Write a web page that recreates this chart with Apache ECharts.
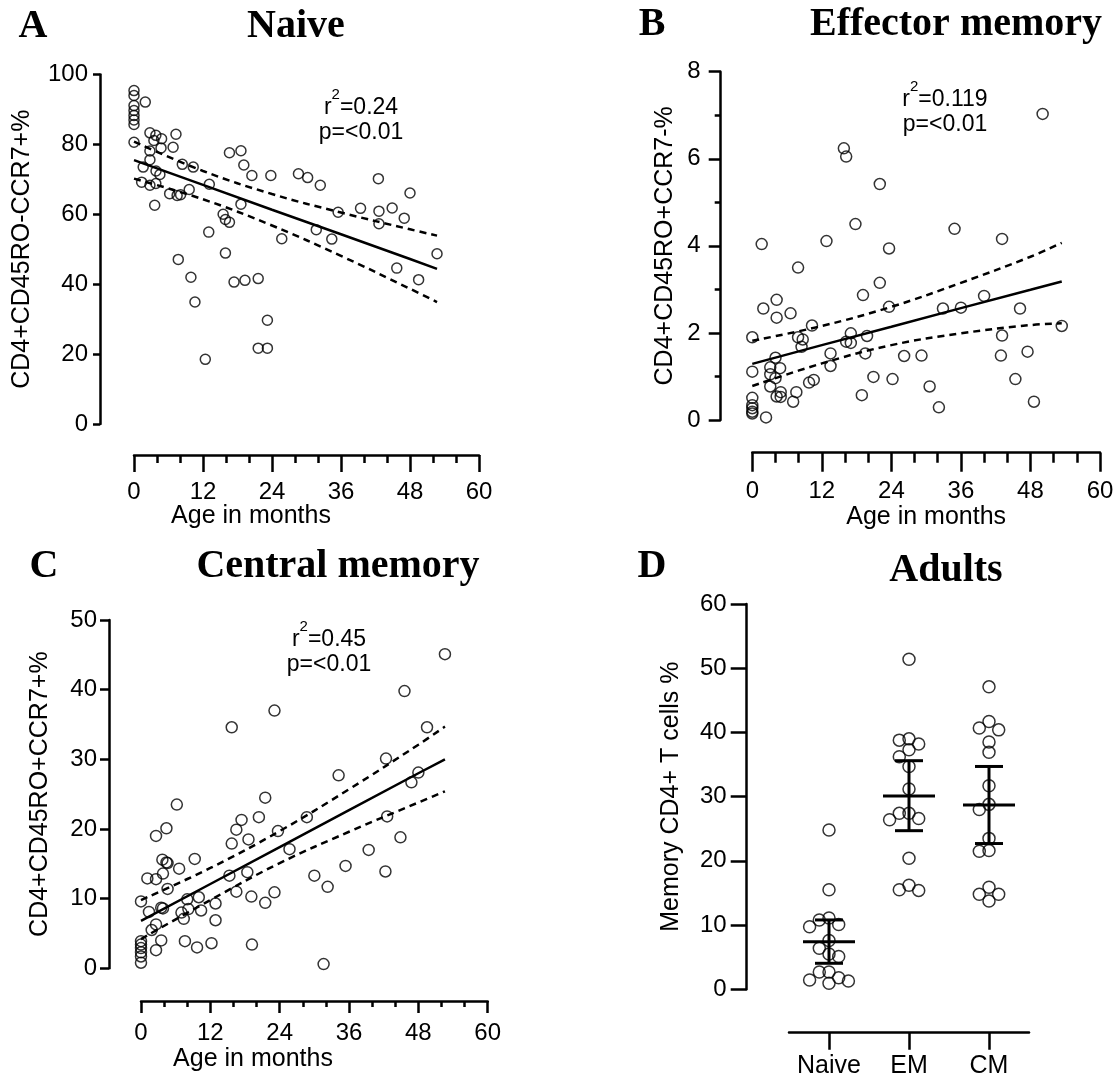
<!DOCTYPE html>
<html>
<head>
<meta charset="utf-8">
<title>CD4+ T cell subsets by age</title>
<script src="https://cdn.jsdelivr.net/npm/echarts@6/dist/echarts.min.js"></script>
<style>
  html, body { margin: 0; padding: 0; background: #fff; }
  #chart { width: 1120px; height: 1081px; }
</style>
</head>
<body>
<div id="chart"></div>
<script>
// ---- Panel A: naive (CD45RO-CCR7+) vs age ----
const naiveMonths = [0,0,0,0,0,0,0,0, 1.96,2.77,3.8,3.46,4.8,4.7,7.3,6.8,2.77,2.77,3.83,4.5,1.6,1.33,2.77,3.8,3.6,6.2,7.5,8.1,8.4,10.3,9.6,13.1,13.0,7.7,9.9,10.6,12.4,16.6,18.6,19.1,20.5,23.8,18.6,15.5,15.9,16.6,15.9,17.4,19.3,21.6,23.2,21.6,23.2,25.7,28.6,30.2,32.4,31.7,34.4,35.5,39.4,42.5,42.6,42.6,44.9,48.0,47.0,45.7,49.5,52.7];
const naiveValues = [95.4,94.0,91.1,89.7,88.3,87.0,85.7,80.6, 92.1,83.3,82.6,81.1,81.6,79.0,82.9,79.2,78.1,75.6,72.4,71.4,73.5,69.2,68.3,68.8,62.6,65.9,65.4,65.6,74.3,73.5,67.1,68.6,54.9,47.1,42.0,34.9,18.5,77.6,78.2,74.1,71.1,71.1,62.9,60.0,58.5,57.7,48.9,40.6,41.1,41.6,29.7,21.7,21.7,53.0,71.6,70.5,68.3,55.6,52.9,60.6,61.7,70.2,60.9,57.3,61.8,66.1,58.9,44.6,41.3,48.7];
const naiveFitMonths = [0, 12, 24, 36, 48, 52.7];
const naiveFit   = [75.5, 68.4, 61.3, 54.3, 47.2, 44.4];
const naiveUpper = [80.8, 72.4, 65.8, 60.5, 55.7, 53.9];
const naiveLower = [70.2, 64.3, 56.8, 48.1, 38.7, 34.9];

// ---- Panel B: effector memory (CD45RO+CCR7-) vs age ----
const emMonths = [0,0,0,0,0,0,0, 2.37,1.62,1.9,4.2,4.2,6.6,4.0,3.1,4.8,3.1,4.0,3.1,4.2,4.9,4.9,7.05,7.6,7.9,7.9,8.7,8.5,10.3,9.8,10.6,12.8,13.5,13.5,15.8,16.2,17.8,16.2,17.0,17.0,19.1,19.8,19.5,18.9,20.9,22.0,22.0,23.6,23.6,24.2,26.2,29.2,30.6,32.2,32.9,34.9,36.0,40.0,43.1,43.1,42.9,45.4,46.2,47.5,48.6,50.1,53.4];
const emValues = [1.90,1.11,0.51,0.34,0.27,0.19,0.15, 0.06,4.04,2.56,2.76,2.35,2.45,1.43,1.21,1.19,1.05,0.96,0.77,0.54,0.64,0.53,0.42,0.64,3.50,1.90,1.85,1.68,2.17,0.86,0.92,4.11,1.53,1.24,6.24,6.05,4.50,1.80,1.99,1.77,2.87,1.93,1.53,0.57,0.99,5.42,3.15,3.94,2.60,0.94,1.47,1.48,0.77,0.29,2.56,4.39,2.58,2.85,4.16,1.94,1.48,0.94,2.56,1.57,0.42,7.03,2.16];
const emFitMonths = [0, 12, 24, 36, 48, 53.4];
const emFit   = [1.29, 1.72, 2.14, 2.57, 2.99, 3.18];
const emUpper = [1.82, 2.16, 2.60, 3.15, 3.75, 4.07];
const emLower = [0.78, 1.30, 1.72, 1.99, 2.18, 2.22];

// ---- Panel C: central memory (CD45RO+CCR7+) vs age ----
const cmMonths = [0,0,0,0,0,0,0, 1.38,1.1,2.6,2.6,4.4,3.7,4.4,4.6,3.8,4.6,3.5,3.8,1.85,2.6,3.5,2.6,6.2,6.6,9.3,8.0,7.0,7.4,8.2,10.0,10.4,7.6,9.7,12.2,12.9,12.9,15.7,15.7,15.3,16.5,17.4,18.6,16.5,18.4,19.1,19.2,20.4,21.5,21.5,23.1,23.1,23.7,25.7,28.7,30.0,32.3,31.6,34.2,35.4,39.4,42.4,42.6,42.3,44.9,45.6,46.8,48.0,49.5,52.6];
const cmValues = [9.6,3.9,3.4,2.9,2.3,1.7,0.8, 8.1,12.9,12.8,19.0,20.1,15.6,15.2,15.1,13.6,11.4,8.7,8.6,5.5,6.3,4.0,2.6,23.5,14.3,15.7,9.9,8.0,7.1,8.5,10.2,8.3,3.9,3.0,3.6,9.3,6.9,34.6,17.9,13.3,19.9,21.3,18.5,11.0,13.8,10.3,3.4,21.7,24.5,9.4,37.0,10.9,19.7,17.1,21.7,13.3,11.7,0.6,27.7,14.7,17.0,30.1,21.8,13.9,18.8,39.8,26.7,28.1,34.6,45.1];
const cmFitMonths = [0, 12, 24, 36, 48, 52.6];
const cmFit   = [6.8, 12.1, 17.4, 22.7, 28.0, 30.0];
const cmUpper = [9.8, 14.4, 19.7, 25.7, 32.1, 34.7];
const cmLower = [4.2, 9.8, 15.1, 19.6, 23.8, 25.4];

// ---- Panel D: adults ----
const adultGroups = ['Naive', 'EM', 'CM'];
const adultNaive = [24.8,15.5,10.8,11.1,10.1,9.75,7.6,6.4,5.5,5.1,2.7,2.7,1.45,1.8,1.3,0.93];
const adultEM    = [51.4,39.0,38.8,38.2,37.3,36.2,34.7,31.2,27.4,27.4,26.6,26.4,20.4,16.2,15.4,15.5];
const adultCM    = [47.1,41.7,40.7,40.4,38.5,36.9,31.7,28.8,28.0,23.5,21.6,21.5,14.8,15.9,14.8,13.75];
const adultMean  = [7.42, 30.1, 28.7];
const adultLow   = [4.05, 24.7, 22.7];
const adultHigh  = [10.8, 35.6, 34.7];

// ---- layout ----
const SANS = 'Liberation Sans';
const SERIF = 'Liberation Serif';
const grids = [
  { left: 134,   top: 74.5, width: 345,   height: 349.5 },
  { left: 752.3, top: 71.7, width: 347.7, height: 348.3 },
  { left: 141,   top: 620,  width: 346.7, height: 348.3 },
  { left: 789,   top: 604,  width: 240,   height: 385.3 }
];

const axisLineStyle = { color: '#000', width: 2.5 };
const labelStyle = (size, margin) => ({ color: '#000', fontFamily: SANS, fontSize: size, margin: margin });
const nameStyle = { color: '#000', fontFamily: SANS, fontSize: 25 };

function monthAxis(gridIndex, offset, tickLen, minorLen, labelMargin, nameGap) {
  const ax = {
    gridIndex, type: 'value', min: 0, max: 60, interval: 12, offset,
    axisLine: { show: true, onZero: false, lineStyle: axisLineStyle },
    axisTick: { show: true, length: tickLen, lineStyle: axisLineStyle },
    minorTick: { show: true, splitNumber: 3, length: minorLen, lineStyle: axisLineStyle },
    splitLine: { show: false }, minorSplitLine: { show: false },
    axisLabel: labelStyle(24, labelMargin)
  };
  if (nameGap) Object.assign(ax, { name: 'Age in months', nameLocation: 'middle', nameGap, nameTextStyle: nameStyle });
  return ax;
}

function valueAxis(gridIndex, max, interval, offset, tickLen, labelMargin, name, nameGap, minor) {
  const ax = {
    gridIndex, type: 'value', min: 0, max, interval, offset,
    axisLine: { show: true, onZero: false, lineStyle: axisLineStyle },
    axisTick: { show: true, length: tickLen, lineStyle: axisLineStyle },
    splitLine: { show: false }, minorSplitLine: { show: false },
    axisLabel: labelStyle(24, labelMargin),
    name, nameLocation: 'middle', nameRotate: 90, nameGap, nameTextStyle: nameStyle
  };
  if (minor) ax.minorTick = { show: true, splitNumber: minor.split, length: minor.length, lineStyle: axisLineStyle };
  return ax;
}

const pointStyle = { color: 'rgba(0,0,0,0)', borderColor: '#000', borderWidth: 1.5 };

function scatterSeries(idx, xs, ys, size) {
  return {
    type: 'scatter', xAxisIndex: idx, yAxisIndex: idx, symbol: 'circle', symbolSize: size,
    itemStyle: pointStyle, data: xs.map((x, i) => [x, ys[i]]), z: 3
  };
}

function lineSeries(idx, xs, ys, dashed) {
  return {
    type: 'line', xAxisIndex: idx, yAxisIndex: idx, showSymbol: false, symbol: 'none',
    smooth: dashed ? 0.4 : false,
    lineStyle: { color: '#000', width: 2.5, type: dashed ? [7, 5] : 'solid' },
    data: xs.map((x, i) => [x, ys[i]]), z: 4
  };
}

// Beeswarm spread: each point takes the nearest free horizontal slot (in px);
// neighbouring circles may overlap a little, as in a dense dot plot.
function swarmOffsets(values, pxPerUnit, minDist, step) {
  const order = values.map((v, i) => i).sort((a, b) => values[b] - values[a]);
  const placed = [];
  const offsets = new Array(values.length).fill(0);
  order.forEach(i => {
    const y = values[i] * pxPerUnit;
    for (let k = 0; k < 40; k++) {
      const slot = k === 0 ? 0 : (k % 2 ? -Math.ceil(k / 2) : Math.ceil(k / 2)) * step;
      if (placed.every(p => Math.hypot(p.x - slot, p.y - y) >= minDist)) {
        offsets[i] = slot;
        placed.push({ x: slot, y });
        break;
      }
    }
  });
  return offsets;
}

const dPx = grids[3].height / 60;
const adultData = [];
[adultNaive, adultEM, adultCM].forEach((vals, g) => {
  const offs = swarmOffsets(vals, dPx, 9.6, 9.7);
  vals.forEach((v, i) => adultData.push({ value: [g, v], symbolOffset: [offs[i], 0] }));
});

const summaryData = adultMean.map((m, i) => [i, m, adultLow[i], adultHigh[i]]);

function renderSummary(params, api) {
  const x = api.value(0);
  const mid = api.coord([x, api.value(1)]);
  const lo = api.coord([x, api.value(2)]);
  const hi = api.coord([x, api.value(3)]);
  const st = { stroke: '#000', lineWidth: 3 };
  const seg = (x1, y1, x2, y2) => ({ type: 'line', shape: { x1, y1, x2, y2 }, style: st });
  return {
    type: 'group',
    children: [
      seg(mid[0] - 26, mid[1], mid[0] + 26, mid[1]),
      seg(lo[0], lo[1], hi[0], hi[1]),
      seg(hi[0] - 14, hi[1], hi[0] + 14, hi[1]),
      seg(lo[0] - 14, lo[1], lo[0] + 14, lo[1])
    ]
  };
}

// ---- headings, axis captions and fit statistics ----
function heading(x, y, text) {
  return { type: 'text', x, y, style: { text, font: 'bold 40px "' + SERIF + '"', fill: '#000', textAlign: 'center', textVerticalAlign: 'middle' } };
}
function caption(x, y, text) {
  return { type: 'text', x, y, style: { text, font: '25px "' + SANS + '"', fill: '#000', textAlign: 'center', textVerticalAlign: 'middle' } };
}
function fitStats(x, y, r2) {
  return [
    { type: 'text', x, y, style: {
      text: '{n|r}{s|2}{n|=' + r2 + '}', textAlign: 'center', textVerticalAlign: 'middle',
      rich: { n: { fontFamily: SANS, fontSize: 23, fill: '#000', lineHeight: 32, verticalAlign: 'bottom' },
              s: { fontFamily: SANS, fontSize: 15, fill: '#000', lineHeight: 16, verticalAlign: 'top' } } } },
    { type: 'text', x, y: y + 30, style: { text: 'p=<0.01', font: '23px "' + SANS + '"', fill: '#000', textAlign: 'center', textVerticalAlign: 'middle' } }
  ];
}

const option = {
  animation: false,
  backgroundColor: '#fff',
  grid: grids.map(g => Object.assign({ containLabel: false }, g)),
  xAxis: [
    monthAxis(0, 31, 17, 8, 25, 0),
    monthAxis(1, 32.7, 19, 10, 27, 50),
    monthAxis(2, 32.7, 12, 6, 20, 0),
    {
      gridIndex: 3, type: 'category', data: adultGroups, offset: 43.4, boundaryGap: true,
      axisLine: { show: true, onZero: false, lineStyle: axisLineStyle },
      axisTick: { show: true, alignWithLabel: true, length: 17, lineStyle: axisLineStyle },
      splitLine: { show: false },
      axisLabel: Object.assign(labelStyle(25, 21), { interval: 0 })
    }
  ],
  yAxis: [
    valueAxis(0, 100, 20, 34, 7, 12, 'CD4+CD45RO-CCR7+%', 65),
    valueAxis(1, 8, 2, 31.6, 12, 20, 'CD4+CD45RO+CCR7-%', 43, { split: 2, length: 6 }),
    valueAxis(2, 50, 10, 32, 9, 12, 'CD4+CD45RO+CCR7+%', 56),
    valueAxis(3, 60, 10, 42.3, 16, 20, 'Memory CD4+ T cells %', 63)
  ],
  series: [
    scatterSeries(0, naiveMonths, naiveValues, 10),
    lineSeries(0, naiveFitMonths, naiveFit, false),
    lineSeries(0, naiveFitMonths, naiveUpper, true),
    lineSeries(0, naiveFitMonths, naiveLower, true),

    scatterSeries(1, emMonths, emValues, 11),
    lineSeries(1, emFitMonths, emFit, false),
    lineSeries(1, emFitMonths, emUpper, true),
    lineSeries(1, emFitMonths, emLower, true),

    scatterSeries(2, cmMonths, cmValues, 11),
    lineSeries(2, cmFitMonths, cmFit, false),
    lineSeries(2, cmFitMonths, cmUpper, true),
    lineSeries(2, cmFitMonths, cmLower, true),

    {
      type: 'scatter', xAxisIndex: 3, yAxisIndex: 3, symbol: 'circle', symbolSize: 12,
      itemStyle: pointStyle, data: adultData, z: 3
    },
    {
      type: 'custom', xAxisIndex: 3, yAxisIndex: 3, renderItem: renderSummary,
      data: summaryData, z: 5
    }
  ],
  graphic: [
    heading(33, 27, 'A'), heading(296, 27, 'Naive'),
    heading(652, 25, 'B'), heading(956, 25, 'Effector memory'),
    heading(44, 567, 'C'), heading(338, 567, 'Central memory'),
    heading(652, 567, 'D'), heading(946, 571, 'Adults'),
    caption(251, 516, 'Age in months'),
    caption(253, 1059, 'Age in months'),
    ...fitStats(361, 103, '0.24'),
    ...fitStats(945, 95, '0.119'),
    ...fitStats(329, 635, '0.45')
  ]
};

const chart = echarts.init(document.getElementById('chart'), null, { renderer: 'canvas' });
chart.setOption(option);
</script>
</body>
</html>
